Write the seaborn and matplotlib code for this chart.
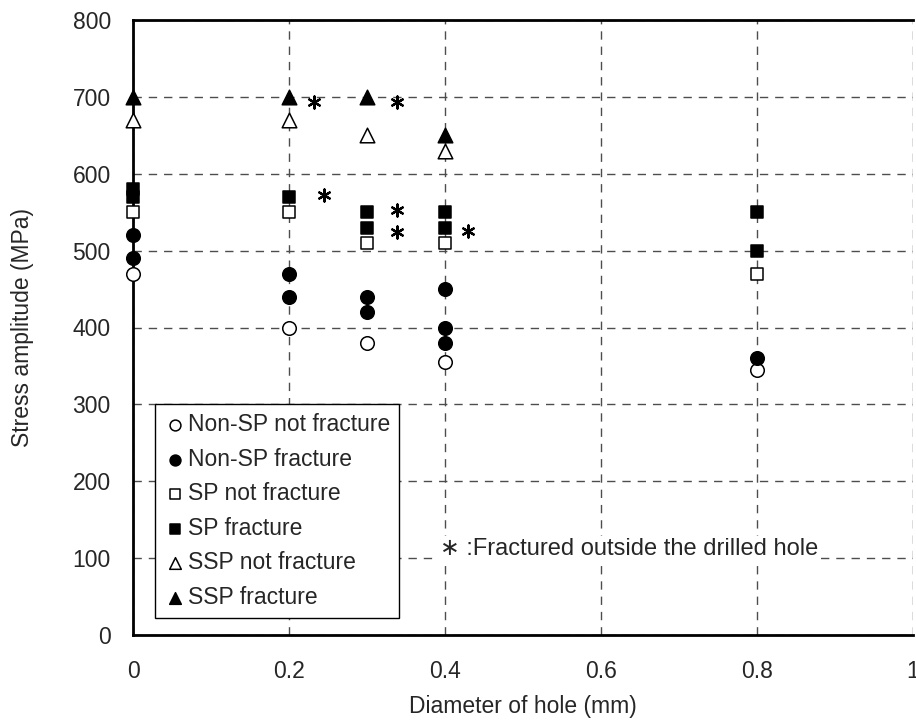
import pandas as pd
import seaborn as sns
import matplotlib.pyplot as plt

# data (diameter of hole mm, stress amplitude MPa)
nonsp_nf_x = [0, 0.2, 0.3, 0.4, 0.8]
nonsp_nf_y = [470, 400, 380, 355, 345]
nonsp_f_x = [0, 0, 0.2, 0.2, 0.3, 0.3, 0.4, 0.4, 0.4, 0.8]
nonsp_f_y = [520, 490, 470, 440, 440, 420, 450, 400, 380, 360]
sp_nf_x = [0, 0.2, 0.3, 0.4, 0.8]
sp_nf_y = [550, 550, 510, 510, 470]
sp_f_x = [0, 0, 0.2, 0.3, 0.3, 0.4, 0.4, 0.8, 0.8]
sp_f_y = [580, 570, 570, 550, 530, 550, 530, 550, 500]
ssp_nf_x = [0, 0.2, 0.3, 0.4]
ssp_nf_y = [670, 670, 650, 630]
ssp_f_x = [0, 0.2, 0.3, 0.4]
ssp_f_y = [700, 700, 700, 650]

# asterisks: fractured outside the drilled hole
star_x = [0.232, 0.338, 0.245, 0.338, 0.338, 0.43]
star_y = [693, 693, 572, 553, 524, 525]

series = [
    ("Non-SP not fracture", nonsp_nf_x, nonsp_nf_y, "o", "white", 95),
    ("Non-SP fracture", nonsp_f_x, nonsp_f_y, "o", "black", 95),
    ("SP not fracture", sp_nf_x, sp_nf_y, "s", "white", 85),
    ("SP fracture", sp_f_x, sp_f_y, "s", "black", 85),
    ("SSP not fracture", ssp_nf_x, ssp_nf_y, "^", "white", 110),
    ("SSP fracture", ssp_f_x, ssp_f_y, "^", "black", 110),
]

sns.set_style("white")
plt.rcParams['font.family'] = ['Liberation Sans', 'DejaVu Sans']

fig = plt.figure(figsize=(9.16, 7.2), dpi=100)
ax = fig.add_axes([133 / 916, 85 / 720, 780 / 916, 615 / 720])

for label, xs, ys, mk, fc, size in series:
    df = pd.DataFrame({"d": xs, "s": ys})
    sns.scatterplot(data=df, x="d", y="s", marker=mk, s=size, color=fc,
                    edgecolor="black", linewidth=1.1, label=label, ax=ax,
                    zorder=3, clip_on=False)

# asterisk marks (6-armed asterisk marker)
stars = pd.DataFrame({"d": star_x, "s": star_y})
sns.scatterplot(data=stars, x="d", y="s", marker=(6, 2, 0), s=75,
                color="black", linewidth=1.6, ax=ax, zorder=4, legend=False)

ax.text(0.394, 112, "\u2217 :Fractured outside the drilled hole", fontsize=17,
        va="center", ha="left", family=['Liberation Sans', 'DejaVu Sans'],
        zorder=4, bbox=dict(facecolor="white", edgecolor="none", pad=1))

ax.set_xlim(0, 1)
ax.set_ylim(0, 800)
ax.set_xticks([0, 0.2, 0.4, 0.6, 0.8, 1])
ax.set_xticklabels(["0", "0.2", "0.4", "0.6", "0.8", "1"])
ax.set_yticks(range(0, 801, 100))
ax.tick_params(labelsize=16.5, length=0)
ax.tick_params(axis="x", pad=18)
ax.tick_params(axis="y", pad=16)
ax.set_xlabel("Diameter of hole (mm)", fontsize=16.5, labelpad=9)
ax.set_ylabel("Stress amplitude (MPa)", fontsize=16.5, labelpad=28)

ax.grid(True, color="#4d4d4d", linestyle=(0, (6, 5)), linewidth=1)
ax.set_axisbelow(True)
for side in ["left", "bottom", "top"]:
    ax.spines[side].set_linewidth(2)
    ax.spines[side].set_color("black")
ax.spines["right"].set_visible(False)

leg = ax.legend(loc="lower left", bbox_to_anchor=(0.028, 0.028), fontsize=16.5,
                frameon=True, fancybox=False, edgecolor="black", framealpha=1,
                markerscale=0.8, handletextpad=0.05, handlelength=1.0,
                labelspacing=0.5, borderpad=0.4, borderaxespad=0)
leg.get_frame().set_linewidth(1)
leg.set_zorder(5)

plt.savefig("out.png", dpi=100)
